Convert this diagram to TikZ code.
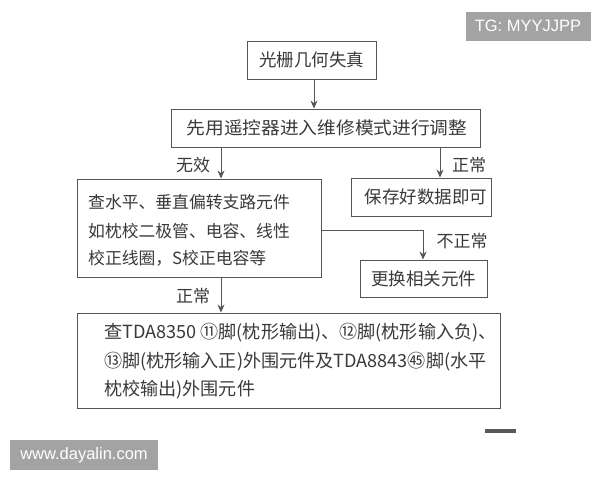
\documentclass[tikz,border=0pt]{standalone}
\usepackage{fontspec}
\newfontfamily\cjk{Noto Sans CJK SC}
\newfontfamily\wm{Liberation Sans}
\usetikzlibrary{arrows.meta}
\definecolor{ink}{HTML}{3A3A3A}
\definecolor{edge}{HTML}{555555}
\definecolor{wmgray}{HTML}{A3A3A3}
\tikzset{
  box/.style={draw=edge, line width=0.9pt, rectangle, inner sep=0pt},
  txt/.style={text=ink, font=\cjk\fontsize{17.5}{20}\selectfont, inner sep=0pt},
  txtb/.style={text=ink, font=\cjk\fontsize{16.8}{20}\selectfont, inner sep=0pt},
  txtc/.style={text=ink, font=\cjk\fontsize{18.1}{20}\selectfont, inner sep=0pt},
  lbl/.style={text=ink, font=\cjk\fontsize{17}{18}\selectfont, inner sep=0pt},
  conn/.style={draw=edge, line width=0.9pt, -{Stealth[length=8pt,width=7pt]}},
  wmbox/.style={fill=wmgray, text=white, font=\wm\fontsize{16.5}{18}\selectfont, inner sep=0pt}
}
\begin{document}
\begin{tikzpicture}[x=1pt,y=-1pt]
\useasboundingbox[fill=white] (0,0) rectangle (600,480);
% watermarks
\node[wmbox, minimum width=125pt, minimum height=29pt] (wm1) at (528,26) {TG: MYYJJPP};
\node[wmbox, minimum width=148pt, minimum height=30pt] (wm2) at (84,455) {www.dayalin.com};
% boxes
\node[box, minimum width=129pt, minimum height=38pt] (b1) at (311.5,60) {};
\node[txt] (t1) at (b1.center) {光栅几何失真};
\node[box, minimum width=309pt, minimum height=38pt] (b2) at (325.5,128) {};
\node[txt, xscale=1.07] (t2) at (327,128) {先用遥控器进入维修模式进行调整};
\node[box, minimum width=244pt, minimum height=98pt] (b3) at (199,228) {};
\node[txtb, anchor=west] (t31) at (88,202) {查水平、垂直偏转支路元件};
\node[txtb, anchor=west] (t32) at (88,231) {如枕校二极管、电容、线性};
\node[txtb, anchor=west] (t33) at (88,258) {校正线圈，S校正电容等};
\node[box, minimum width=140pt, minimum height=38pt] (b4) at (421,197) {};
\node[txt] (t4) at (426,197) {保存好数据即可};
\node[box, minimum width=127pt, minimum height=37pt] (b5) at (423.5,278.5) {};
\node[txt] (t5) at (b5.center) {更换相关元件};
\node[box, minimum width=423pt, minimum height=95pt] (b6) at (288.5,360.5) {};
\node[txtc, anchor=west] (t61) at (104,333) {查TDA8350 ⑪脚(枕形输出)、⑫脚(枕形输入负)、};
\node[txtc, anchor=west] (t62) at (104,362) {⑬脚(枕形输入正)外围元件及TDA8843㊺脚(水平};
\node[txtc, anchor=west] (t63) at (104,390) {枕校输出)外围元件};
% connectors
\coordinate (c1) at (314,79);
\draw[conn] (c1) -- (c1 |- b2.north);
\coordinate (c2a) at (221,147);
\coordinate (c2b) at (440,147);
\draw[conn] (c2a) -- (c2a |- b3.north);
\draw[conn] (c2b) -- (c2b |- b4.north);
\node[lbl] (l1) at (193,165) {无效};
\node[lbl] (l2) at (469,165) {正常};
\coordinate (c3) at (321,230);
\coordinate (c3b) at (423,230);
\draw[conn] (c3) -- (c3b) -- (c3b |- b5.north);
\node[lbl] (l3) at (462,241) {不正常};
\coordinate (c4) at (221,277);
\draw[conn] (c4) -- (c4 |- b6.north);
\node[lbl] (l4) at (193,296) {正常};
% small logo
\node[fill=ink!85, minimum width=31pt, minimum height=4pt, inner sep=0pt] (logo) at (500.5,431) {};
\end{tikzpicture}
\end{document}
